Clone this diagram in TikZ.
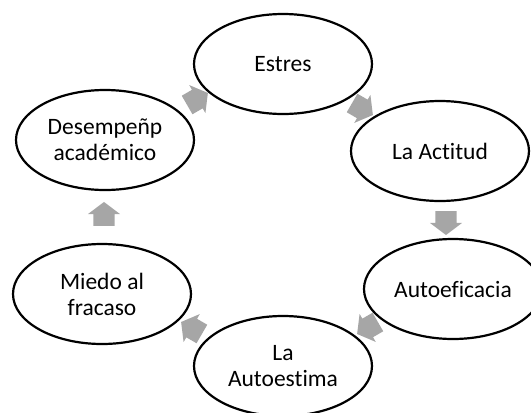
\documentclass[tikz,border=0pt]{standalone}
\usepackage{fontspec}
\setmainfont{Carlito}[Ligatures=NoCommon]
\usepackage{xcolor}
\usepackage{tikz}
\usetikzlibrary{shapes.geometric, shapes.arrows, positioning}
\definecolor{arrowgray}{RGB}{166,166,166}

\begin{document}
\begin{tikzpicture}[x=1pt, y=-1pt]
    \tikzstyle{stage} = [ellipse, draw=black, line width=2.2pt, fill=white, minimum width=178pt, minimum height=100pt, inner sep=0pt, align=center, font=\fontsize{23.5}{26}\selectfont]
    \tikzstyle{flow} = [single arrow, fill=arrowgray, draw=none, inner sep=0pt, text height=21pt, text depth=0pt, minimum height=24pt, single arrow head extend=5.5pt, single arrow tip angle=106]

    \useasboundingbox (0,0) rectangle (531,413);

    % block arrows go first, the ellipses hide their ends
    \node (toactitud) [flow, rotate=-30] at (359,107) {};
    \node (toautoef) [flow, rotate=-90] at (446,219) {};
    \node (toautoest) [flow, rotate=-150] at (371,326) {};
    \node (tomiedo) [flow, rotate=150] at (195,330) {};
    \node (todesemp) [flow, rotate=90] at (104,218) {};
    \node (toestres) [flow, rotate=30] at (194,101) {};

    \node (estres) [stage] at (283,64) {Estres};
    \node (actitud) [stage] at (440,151) {La Actitud};
    \node (autoef) [stage] at (453,289) {Autoeficacia};
    \node (autoest) [stage] at (283,366) {La\\Autoestima};
    \node (miedo) [stage] at (102,294) {Miedo al\\fracaso};
    \node (desemp) [stage] at (105,140) {Desempeñp\\académico};

\end{tikzpicture}
\end{document}
